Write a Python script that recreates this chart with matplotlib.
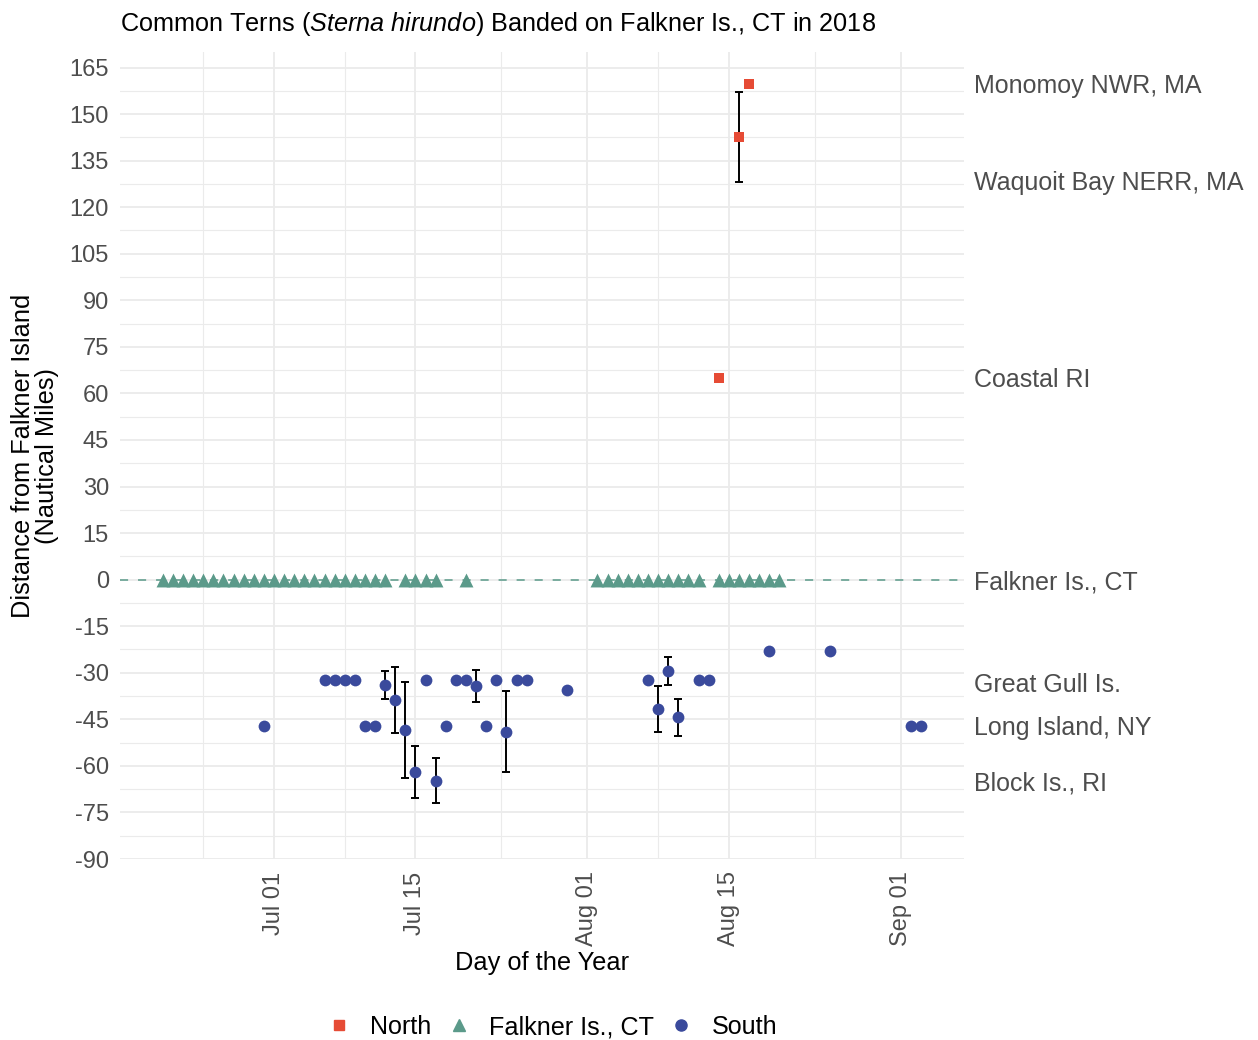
import matplotlib
matplotlib.use("Agg")
import matplotlib.pyplot as plt
import matplotlib.dates as mdates
from matplotlib.lines import Line2D
import numpy as np
import pandas as pd

plt.rcParams['font.family'] = ['Liberation Sans', 'DejaVu Sans']
plt.rcParams['mathtext.fontset'] = 'custom'
plt.rcParams['mathtext.rm'] = 'Liberation Sans'
plt.rcParams['mathtext.it'] = 'Liberation Sans:italic'
plt.rcParams['axes.unicode_minus'] = False

# ---- resightings north of the colony (distance, nautical miles) ----
north_dates = ['2018-08-14', '2018-08-16', '2018-08-17']
north_dist = [65.0, 142.6, 159.7]
north_sd = [0.0, 14.4, 0.0]

# ---- resightings at the colony itself ----
falkner_dates = [
    '2018-06-20', '2018-06-21', '2018-06-22', '2018-06-23', '2018-06-24',
    '2018-06-25', '2018-06-26', '2018-06-27', '2018-06-28', '2018-06-29',
    '2018-06-30', '2018-07-01', '2018-07-02', '2018-07-03', '2018-07-04',
    '2018-07-05', '2018-07-06', '2018-07-07', '2018-07-08', '2018-07-09',
    '2018-07-10', '2018-07-11', '2018-07-12',
    '2018-07-14', '2018-07-15', '2018-07-16', '2018-07-17',
    '2018-07-20',
    '2018-08-02', '2018-08-03', '2018-08-04', '2018-08-05', '2018-08-06',
    '2018-08-07', '2018-08-08', '2018-08-09', '2018-08-10', '2018-08-11',
    '2018-08-12',
    '2018-08-14', '2018-08-15', '2018-08-16', '2018-08-17', '2018-08-18',
    '2018-08-19', '2018-08-20',
]
falkner_dist = [0.0] * len(falkner_dates)

# ---- resightings south / west of the colony ----
south_dates = [
    '2018-06-30', '2018-07-06', '2018-07-07', '2018-07-08', '2018-07-09',
    '2018-07-10', '2018-07-11', '2018-07-12', '2018-07-13', '2018-07-14',
    '2018-07-15', '2018-07-16', '2018-07-17', '2018-07-18', '2018-07-19',
    '2018-07-20', '2018-07-21', '2018-07-22', '2018-07-23', '2018-07-24',
    '2018-07-25', '2018-07-26', '2018-07-30', '2018-08-07', '2018-08-08',
    '2018-08-09', '2018-08-10', '2018-08-12', '2018-08-13', '2018-08-19',
    '2018-08-25', '2018-09-02', '2018-09-03',
]
south_dist = [
    -47.3, -32.4, -32.4, -32.4, -32.4,
    -47.3, -47.3, -33.8, -38.9, -48.5,
    -61.9, -32.4, -64.8, -47.3, -32.4,
    -32.4, -34.3, -47.3, -32.4, -49.0,
    -32.4, -32.4, -35.4, -32.4, -41.7,
    -29.4, -44.4, -32.4, -32.4, -23.0,
    -23.0, -47.3, -47.3,
]
south_sd = [
    0, 0, 0, 0, 0,
    0, 0, 4.5, 10.6, 15.5,
    8.3, 0, 7.3, 0, 0,
    0, 5.1, 0, 0, 13.0,
    0, 0, 0, 0, 7.4,
    4.4, 6.1, 0, 0, 0,
    0, 0, 0,
]

# ---- reference sites shown on the right-hand axis ----
site_names = ['Monomoy NWR, MA', 'Waquoit Bay NERR, MA', 'Coastal RI',
              'Falkner Is., CT', 'Great Gull Is.', 'Long Island, NY',
              'Block Is., RI']
site_dist = [160.0, 128.5, 65.0, 0.0, -33.0, -47.0, -65.0]

y_ticks = list(range(-90, 166, 15))
x_tick_dates = ['2018-07-01', '2018-07-15', '2018-08-01', '2018-08-15', '2018-09-01']
x_minor_dates = ['2018-06-24 00:00', '2018-07-08 00:00', '2018-07-23 12:00',
                 '2018-08-08 00:00', '2018-08-23 12:00']

col_north = '#E64B35'
col_falk = '#5B9A8A'
col_south = '#3A4A9C'
grid_col = '#EBEBEB'
txt_grey = '#4D4D4D'

fig = plt.figure(figsize=(12.58, 10.40), dpi=100)
ax = fig.add_axes([120 / 1258, 1 - 859 / 1040, 844 / 1258, 807 / 1040])

nd = pd.to_datetime(north_dates)
fd = pd.to_datetime(falkner_dates)
sd = pd.to_datetime(south_dates)
n_sd = np.array(north_sd)
s_sd = np.array(south_sd)
n_dist = np.array(north_dist)
s_dist = np.array(south_dist)

ax.axhline(0, color=col_falk, lw=1.1, ls=(0, (5.3, 6.5)), zorder=2)

m = n_sd > 0
ax.errorbar(nd[m], n_dist[m], yerr=n_sd[m], fmt='none', ecolor='black',
            elinewidth=1.4, capsize=3, capthick=1.4, zorder=3)
m = s_sd > 0
ax.errorbar(sd[m], s_dist[m], yerr=s_sd[m], fmt='none', ecolor='black',
            elinewidth=1.4, capsize=3, capthick=1.4, zorder=3)

ax.scatter(nd, n_dist, marker='s', s=46, color=col_north, linewidths=0, zorder=4)
ax.scatter(fd, falkner_dist, marker='^', s=100, color=col_falk, linewidths=0, zorder=4)
ax.scatter(sd, s_dist, marker='o', s=72, color=col_south, linewidths=0, zorder=4)

origin = pd.Timestamp('2018-07-01')
ax.set_xlim(origin + pd.Timedelta(days=-15.23), origin + pd.Timedelta(days=68.26))
ax.set_ylim(-90, 170)

ax.set_xticks(pd.to_datetime(x_tick_dates))
ax.set_xticks(pd.to_datetime(x_minor_dates, format='%Y-%m-%d %H:%M'), minor=True)
ax.xaxis.set_major_formatter(mdates.DateFormatter('%b %d'))
ax.set_yticks(y_ticks)
ax.set_yticks([v + 7.5 for v in y_ticks[:-1]], minor=True)

ax.grid(which='major', color=grid_col, lw=1.3)
ax.grid(which='minor', color=grid_col, lw=0.8)
ax.set_axisbelow(True)
for s in ax.spines.values():
    s.set_visible(False)

ax.tick_params(which='both', length=0)
ax.tick_params(axis='y', labelsize=17, labelcolor=txt_grey, pad=8)
ax.tick_params(axis='x', labelsize=17, labelcolor=txt_grey, pad=9,
               labelrotation=90)

ax.set_xlabel('Day of the Year', fontsize=18.3, color='black')
ax.xaxis.set_label_coords(0.5, (859 - 963) / 807)
ax.xaxis.label.set_va('center')
ax.set_ylabel('Distance from Falkner Island\n(Nautical Miles)', fontsize=18.3,
              color='black', linespacing=1.0)
ax.yaxis.set_label_coords((35 - 120) / 844, 0.5)
ax.yaxis.label.set_va('center')

ax.set_title(r'Common Terns ($\mathit{Sterna\ hirundo}$) Banded on Falkner Is., CT in 2018',
             loc='left', fontsize=18.15, color='black', pad=15)

ax2 = ax.twinx()
ax2.set_ylim(ax.get_ylim())
ax2.set_yticks(site_dist)
ax2.set_yticklabels(site_names)
ax2.tick_params(axis='y', length=0, pad=7, labelsize=18, labelcolor=txt_grey)
for s in ax2.spines.values():
    s.set_visible(False)

handles = [
    Line2D([], [], ls='none', marker='s', ms=6.5, color=col_north),
    Line2D([], [], ls='none', marker='^', ms=8.5, color=col_falk),
    Line2D([], [], ls='none', marker='o', ms=8, color=col_south),
]
fig.legend(handles, ['North', 'Falkner Is., CT', 'South'], loc='center',
           bbox_to_anchor=(552 / 1258, 1 - 1027 / 1040), ncol=3, frameon=False,
           fontsize=18.1, handlelength=1.0, handletextpad=0.7,
           columnspacing=0.6)

fig.savefig('out.png', dpi=100)
